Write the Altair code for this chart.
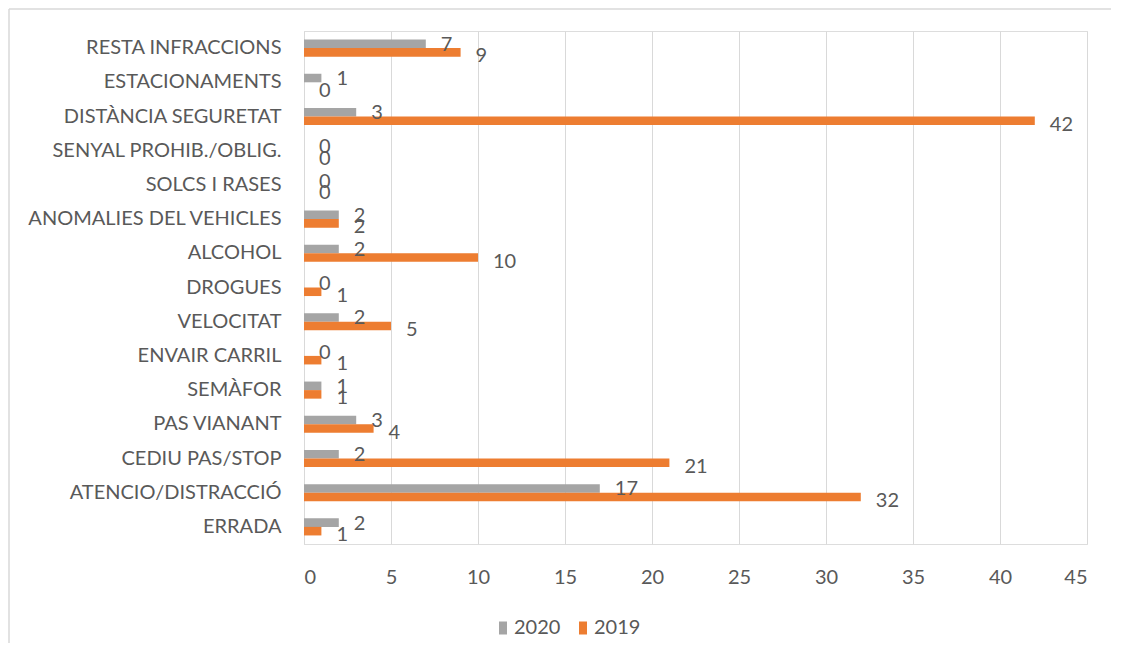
import altair as alt
import pandas as pd

categories = [
    "RESTA INFRACCIONS", "ESTACIONAMENTS", "DISTÀNCIA SEGURETAT",
    "SENYAL PROHIB./OBLIG.", "SOLCS I RASES", "ANOMALIES DEL VEHICLES",
    "ALCOHOL", "DROGUES", "VELOCITAT", "ENVAIR CARRIL", "SEMÀFOR",
    "PAS VIANANT", "CEDIU PAS/STOP", "ATENCIO/DISTRACCIÓ", "ERRADA",
]
values_2020 = [7, 1, 3, 0, 0, 2, 2, 0, 2, 0, 1, 3, 2, 17, 2]
values_2019 = [9, 0, 42, 0, 0, 2, 10, 1, 5, 1, 1, 4, 21, 32, 1]
series = ["2020", "2019"]
x_ticks = [0, 5, 10, 15, 20, 25, 30, 35, 40, 45]

rows = []
for c, a, b in zip(categories, values_2020, values_2019):
    rows.append({"cat": c, "year": "2020", "value": a})
    rows.append({"cat": c, "year": "2019", "value": b})
df = pd.DataFrame(rows)

FONT = "Lato"
FS = 20
TXT = "#595959"
GRID = "#D9D9D9"

y_enc = alt.Y("cat:N", sort=categories, title=None,
              scale=alt.Scale(paddingInner=0.5, paddingOuter=0.25),
              axis=alt.Axis(labelFontSize=FS, labelColor=TXT, labelFont=FONT,
                            ticks=False, domain=True, domainColor=GRID,
                            labelPadding=23, grid=False, labelLimit=400))
x_enc = alt.X("value:Q", title=None,
              scale=alt.Scale(domain=[0, 45], nice=False),
              axis=alt.Axis(values=x_ticks, grid=True, gridColor=GRID,
                            domain=False, ticks=False, labelFontSize=FS,
                            labelColor=TXT, labelFont=FONT, labelPadding=23))
yoff = alt.YOffset("year:N", sort=series, scale=alt.Scale(paddingInner=0, paddingOuter=0))

base = alt.Chart(df)

bars = base.mark_bar(cornerRadius=0).encode(
    y=y_enc, x=x_enc, yOffset=yoff,
    color=alt.Color("year:N", sort=series,
                    scale=alt.Scale(domain=series, range=["#A5A5A5", "#ED7D31"]),
                    legend=alt.Legend(title=None, orient="none", direction="horizontal",
                                      legendX=189, legendY=587, padding=0,
                                      symbolType="M-0.62,-1H0.62V1H-0.62Z",
                                      symbolSize=169, symbolStrokeWidth=0,
                                      labelFontSize=FS, labelColor=TXT, labelFont=FONT,
                                      columnPadding=12, labelOffset=1)),
)

t2020 = base.transform_filter(alt.datum.year == "2020").mark_text(
    align="left", baseline="middle", dx=15, dy=1, fontSize=FS, font=FONT, color=TXT
).encode(y=alt.Y("cat:N", sort=categories), x="value:Q", yOffset=yoff, text="value:Q")

t2019 = base.transform_filter(alt.datum.year == "2019").mark_text(
    align="left", baseline="middle", dx=15, dy=4, fontSize=FS, font=FONT, color=TXT
).encode(y=alt.Y("cat:N", sort=categories), x="value:Q", yOffset=yoff, text="value:Q")

frame_left = alt.Chart(alt.Data(values=[{}])).mark_rule(
    stroke=GRID, strokeWidth=1.5
).encode(x=alt.value(-295), y=alt.value(-22), y2=alt.value(612))
frame_top = alt.Chart(alt.Data(values=[{}])).mark_rule(
    stroke=GRID, strokeWidth=1.5
).encode(x=alt.value(-295), x2=alt.value(807), y=alt.value(-22))

chart = alt.layer(frame_left, frame_top, bars, t2020, t2019).properties(
    width=783, height=513,
    autosize=alt.AutoSizeParams(type="none"),
    padding={"left": 296, "top": 23, "right": 25, "bottom": 100},
).configure_view(stroke=None).configure(background="transparent")

chart.save("out.html", embed_options={"renderer": "svg", "actions": False})
